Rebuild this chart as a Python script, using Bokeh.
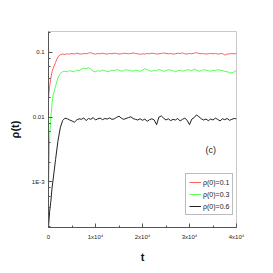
from bokeh.plotting import figure
from bokeh.models import (Range1d, SingleIntervalTicker, LogTicker, CustomJSTickFormatter,
                          Legend, LegendItem, Label)
from bokeh.embed import file_html
from bokeh.resources import INLINE

t = [0, 250, 500, 750, 1000, 1500, 2000, 2500, 3000, 3500,
     4000, 4500, 5000, 5500, 6000, 6500, 7000, 7500, 8000, 8500,
     9000, 9500, 10000, 10500, 11000, 11500, 12000, 12500, 13000, 13500,
     14000, 14500, 15000, 15500, 16000, 16500, 17000, 17500, 18000, 18500,
     19000, 19500, 20000, 20500, 21000, 21500, 22000, 22500, 23000, 23500,
     24000, 24500, 25000, 25500, 26000, 26500, 27000, 27500, 28000, 28500,
     29000, 29500, 30000, 30500, 31000, 31500, 32000, 32500, 33000, 33500,
     34000, 34500, 35000, 35500, 36000, 36500, 37000, 37500, 38000, 38500,
     39000, 39500, 40000]

rho_01 = [.020, .030, .040, .050, .057, .070, .085, .092, .094, .093,
          .095, .094, .096, .094, .097, .095, .094, .096, .095, .097,
          .099, .095, .094, .096, .095, .097, .095, .094, .096, .095,
          .097, .096, .094, .095, .097, .096, .095, .096, .098, .096,
          .095, .093, .095, .094, .096, .095, .097, .096, .094, .095,
          .096, .098, .096, .095, .096, .094, .095, .097, .096, .098,
          .095, .094, .096, .095, .097, .099, .096, .095, .096, .094,
          .095, .096, .095, .096, .094, .095, .096, .091, .094, .095,
          .096, .095, .096]

rho_03 = [.0008, .005, .010, .016, .022, .030, .040, .047, .050, .051,
          .050, .052, .051, .050, .053, .052, .055, .057, .056, .058,
          .055, .051, .050, .052, .051, .053, .052, .050, .051, .053,
          .052, .054, .053, .051, .052, .054, .053, .052, .051, .053,
          .052, .051, .053, .056, .054, .052, .051, .053, .052, .054,
          .053, .051, .052, .054, .053, .052, .050, .052, .053, .051,
          .052, .054, .053, .052, .055, .053, .051, .052, .054, .053,
          .052, .051, .053, .052, .054, .053, .052, .051, .050, .049,
          .048, .050, .053]

rho_06 = [.00020, .00035, .0005, .0008, .0011, .0022, .0042, .0068, .0088, .0096,
          .0094, .0090, .0087, .0083, .0090, .0094, .0092, .0097, .0088, .0095,
          .0092, .0098, .0090, .0094, .0096, .0091, .0095, .0093, .0097, .0092,
          .0094, .0099, .0103, .0096, .0092, .0095, .0098, .0101, .0095, .0092,
          .0090, .0094, .0089, .0093, .0086, .0091, .0094, .0090, .0076, .0100,
          .0104, .0096, .0090, .0094, .0088, .0092, .0090, .0095, .0087, .0092,
          .0096, .0089, .0076, .0093, .0098, .0108, .0101, .0094, .0090, .0093,
          .0088, .0093, .0090, .0096, .0092, .0087, .0094, .0091, .0095, .0089,
          .0092, .0095, .0094]

labels = ["\u03c1(0)=0.1", "\u03c1(0)=0.3", "\u03c1(0)=0.6"]
colors = ["#ff6060", "#55ff55", "#222222"]

FONT = "Liberation Sans"

p = figure(width=265, height=265, y_axis_type="log",
           x_range=Range1d(0, 40000), y_range=Range1d(1.96e-4, 0.21),
           output_backend="svg", toolbar_location=None,
           min_border_left=48, min_border_right=29, min_border_top=31, min_border_bottom=37)

p.xgrid.visible = False
p.ygrid.visible = False
p.outline_line_color = "#c8c8c8"
p.outline_line_width = 1

renderers = []
for ys, c in zip([rho_01, rho_03, rho_06], colors):
    r = p.line(t, ys, line_color=c, line_width=1)
    renderers.append(r)

# axes
p.xaxis.ticker = SingleIntervalTicker(interval=10000, num_minor_ticks=2)
p.xaxis.formatter = CustomJSTickFormatter(code="""
    if (tick == 0) return "0";
    return Math.round(tick/10000) + "x10\u2074";
""")
p.yaxis.ticker = LogTicker()
p.yaxis.formatter = CustomJSTickFormatter(code="""
    if (tick >= 0.0099) return (tick >= 0.099 ? "0.1" : "0.01");
    return "1E" + Math.round(Math.log10(tick));
""")
for ax in (p.xaxis[0], p.yaxis[0]):
    ax.axis_line_color = "#555555"
    ax.major_tick_line_color = "#555555"
    ax.minor_tick_line_color = "#555555"
    ax.major_tick_in = 4
    ax.major_tick_out = 0
    ax.minor_tick_in = 2
    ax.minor_tick_out = 0
    ax.major_label_text_font = FONT
    ax.major_label_text_font_size = "6px"
    ax.major_label_text_color = "#222222"
    ax.axis_label_text_font = FONT
    ax.axis_label_text_font_style = "bold"
    ax.axis_label_text_font_size = "11px"
    ax.axis_label_text_color = "#111111"

p.xaxis.axis_label = "t"
p.xaxis.major_label_standoff = 6
p.xaxis.axis_label_standoff = 8
p.yaxis.axis_label = "\u03c1(t)"
p.yaxis.major_label_standoff = 4
p.yaxis.axis_label_standoff = 8

legend = Legend(items=[LegendItem(label=l, renderers=[r]) for l, r in zip(labels, renderers)],
                location=(137, 12), label_text_font=FONT, label_text_font_size="7px",
                label_text_color="#222222",
                glyph_width=12, glyph_height=10, label_height=10, spacing=2,
                padding=3, margin=0, label_standoff=2,
                border_line_color="#777777", border_line_width=1,
                background_fill_alpha=0)
p.add_layout(legend)

p.add_layout(Label(x=34500, y=0.0031, text="(c)", text_font=FONT, text_font_size="9px",
                   text_align="center", text_baseline="middle", text_color="#222222"))

open("out.html", "w").write(file_html(p, INLINE))
